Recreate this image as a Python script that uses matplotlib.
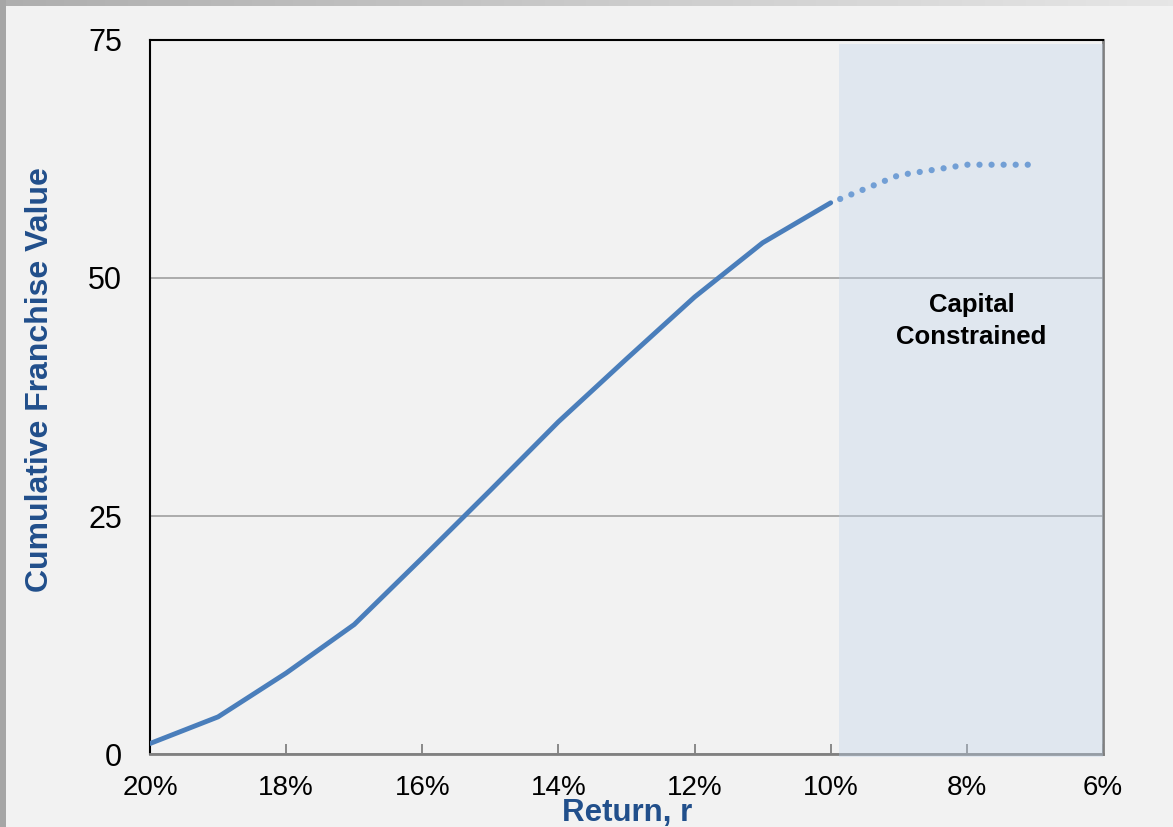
import numpy as np
import matplotlib
matplotlib.use("Agg")
import matplotlib.pyplot as plt
from matplotlib.patches import Rectangle

plt.rcParams['font.family'] = ['Liberation Sans', 'DejaVu Sans']

# Cumulative franchise value versus return threshold
returns = [20, 19, 18, 17, 16, 15, 14, 13, 12, 11, 10]
values = [1.1, 3.9, 8.5, 13.6, 20.6, 27.7, 34.9, 41.5, 48.0, 53.7, 57.9]

# Capital-constrained continuation
returns_constrained = [10, 9, 8, 7]
values_constrained = [57.9, 60.8, 61.9, 61.9]

x_ticks = [20, 18, 16, 14, 12, 10, 8, 6]
x_tick_labels = ["20%", "18%", "16%", "14%", "12%", "10%", "8%", "6%"]
y_ticks = [0, 25, 50, 75]
y_tick_labels = ["0", "25", "50", "75"]

shade_start = 9.88
shade_end = 6

W, H = 1173, 827
fig = plt.figure(figsize=(W / 100, H / 100), dpi=100)
fig.patch.set_facecolor('#f2f2f2')

# Frame strips along the left and top edges of the figure
fig.patches.append(Rectangle((0, 0), 6 / W, 1, transform=fig.transFigure,
                             facecolor='#a6a6a6', edgecolor='none', zorder=0))
top = fig.add_axes([0, 1 - 6 / H, 1, 6 / H])
grad = np.linspace(0, 1, 256)[None, :]
top.imshow(grad, aspect='auto', cmap=matplotlib.colors.LinearSegmentedColormap.from_list(
    'edge', ['#aeaeae', '#e6e6e6']), extent=[0, 1, 0, 1])
top.set_axis_off()

ax = fig.add_axes([150 / W, 1 - 754 / H, (1103 - 150) / W, (754 - 40) / H])
ax.set_facecolor('#f2f2f2')

ax.set_xlim(20, 6)
ax.set_ylim(0, 75)

ax.set_xticks(x_ticks)
ax.set_xticklabels(x_tick_labels)
ax.set_yticks(y_ticks)
ax.set_yticklabels(y_tick_labels)

ax.tick_params(axis='x', direction='in', length=7, width=1.3, color='#808080',
               labelsize=20, pad=15, labelcolor='black')
ax.tick_params(axis='y', length=0, labelsize=22, pad=20, labelcolor='black')

ax.grid(axis='y', color='#a6a6a6', linewidth=1.3)
ax.set_axisbelow(True)

ax.spines['left'].set_color('black')
ax.spines['top'].set_color('black')
ax.spines['left'].set_linewidth(1.5)
ax.spines['top'].set_linewidth(1.5)
ax.spines['bottom'].set_color('#808080')
ax.spines['right'].set_color('#808080')
ax.spines['bottom'].set_linewidth(2)
ax.spines['right'].set_linewidth(2)

# Shaded capital-constrained region
ax.add_patch(Rectangle((shade_start, -0.3), shade_end - shade_start, 74.9,
                       facecolor='#c1d5ec', alpha=0.35, edgecolor='none',
                       zorder=3, clip_on=False))

ax.plot(returns, values, color='#4a7ebb', linewidth=3.5,
        solid_capstyle='round', solid_joinstyle='round', zorder=4)
ax.plot(returns_constrained, values_constrained, color='#729fd5', linewidth=4.5,
        linestyle=(0.3, (0.01, 1.92)), dash_capstyle='round', zorder=4)

ax.text(7.93, 45.5, "Capital\nConstrained", ha='center', va='center',
        fontsize=18.5, fontweight='bold', color='black', linespacing=1.45, zorder=5)

fig.text(48.3 / W, 1 - 379.5 / H, "Cumulative Franchise Value", rotation=90,
         rotation_mode='anchor', ha='center', va='baseline',
         fontsize=23, fontweight='bold', color='#214f8b')
fig.text(626.7 / W, 1 - 820.5 / H, "Return, r", ha='center', va='baseline',
         fontsize=22.5, fontweight='bold', color='#214f8b')

fig.savefig('out.png', dpi=100, facecolor=fig.get_facecolor())
